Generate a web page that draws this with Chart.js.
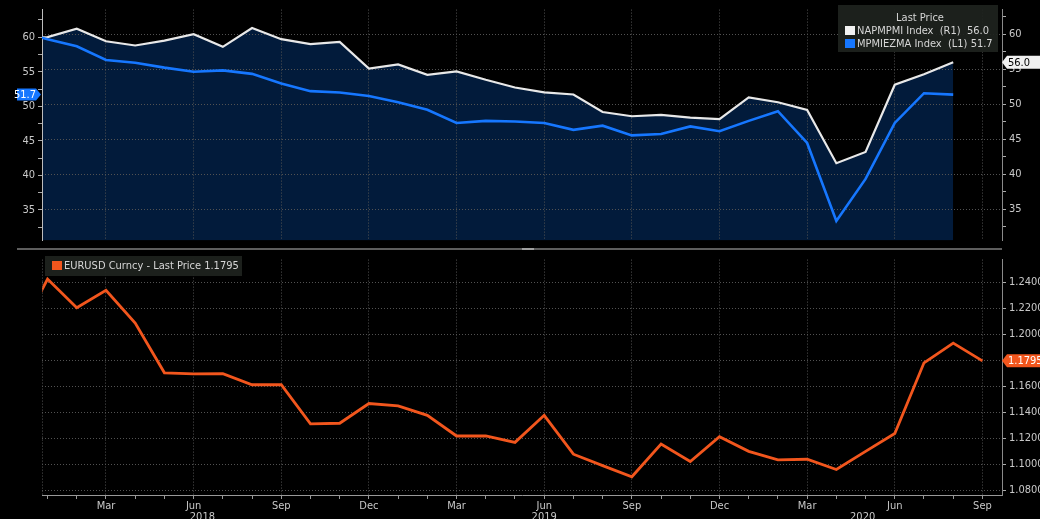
<!DOCTYPE html>
<html>
<head>
<meta charset="utf-8">
<title>PMI vs EURUSD</title>
<script src="https://cdn.jsdelivr.net/npm/chart.js@4.4.0/dist/chart.umd.min.js"></script>
<style>
	html, body { margin: 0; padding: 0; background: #000; }
	#wrap { position: relative; width: 1040px; height: 519px; overflow: hidden; background: #000; }
	#topChart { position: absolute; left: 0; top: 0; }
	#botChart { position: absolute; left: 0; top: 250px; }
	.legend {
		position: absolute;
		background: rgba(30, 35, 30, 0.92);
		color: #d6d6d6;
		font-family: "Liberation Sans Narrow", "DejaVu Sans Condensed", "Arial Narrow", sans-serif;
		font-size: 11px;
		line-height: 12px;
	}
	.legend .row, .legend .ttl { white-space: pre; height: 12px; }
	.legend .sw { display: inline-block; width: 10px; height: 9px; margin-right: 2px; vertical-align: -1px; }
	#legTop { left: 838px; top: 5px; width: 160px; height: 47px; }
	#legTop .ttl { text-align: center; margin-top: 7px; padding-left: 4px; }
	#legTop .row { margin-left: 7px; margin-top: 1px; }
	#legBot { left: 45px; top: 256px; width: 197px; height: 20px; }
	#legBot .row { margin-left: 7px; margin-top: 4px; }
</style>
</head>
<body>
<div id="wrap">
	<canvas id="topChart" width="1040" height="250"></canvas>
	<canvas id="botChart" width="1040" height="269"></canvas>
	<div class="legend" id="legTop"><div class="ttl">Last Price</div><div class="row"><span class="sw" style="background:#f2f2f2"></span>NAPMPMI Index  (R1)  56.0</div><div class="row"><span class="sw" style="background:#1677ff"></span>MPMIEZMA Index  (L1) 51.7</div></div>
	<div class="legend" id="legBot"><div class="row"><span class="sw" style="background:#f2561d"></span>EURUSD Curncy - Last Price 1.1795</div></div>
</div>
<script>
/* 資料 */
var months = ['2017-12',
	'2018-01', '2018-02', '2018-03', '2018-04', '2018-05', '2018-06', '2018-07', '2018-08', '2018-09', '2018-10', '2018-11', '2018-12',
	'2019-01', '2019-02', '2019-03', '2019-04', '2019-05', '2019-06', '2019-07', '2019-08', '2019-09', '2019-10', '2019-11', '2019-12',
	'2020-01', '2020-02', '2020-03', '2020-04', '2020-05', '2020-06', '2020-07', '2020-08', '2020-09'];

// ISM manufacturing (右軸 R1)
var napmPmi = [59.3,
	59.6, 60.8, 59.0, 58.4, 59.1, 60.0, 58.2, 60.9, 59.3, 58.6, 58.9, 55.1,
	55.7, 54.2, 54.7, 53.5, 52.4, 51.7, 51.4, 48.9, 48.3, 48.5, 48.1, 47.9,
	51.0, 50.3, 49.2, 41.6, 43.2, 52.8, 54.3, 56.0, null];

// Eurozone manufacturing PMI (左軸 L1)
var ezPmi = [60.9,
	59.7, 58.7, 56.7, 56.3, 55.6, 55.0, 55.2, 54.7, 53.3, 52.2, 52.0, 51.5,
	50.6, 49.5, 47.6, 47.9, 47.8, 47.6, 46.6, 47.2, 45.8, 46.0, 47.1, 46.4,
	47.9, 49.3, 44.7, 33.4, 39.5, 47.6, 51.9, 51.7, null];

// EURUSD
var eurusd = [1.1990,
	1.2424, 1.2204, 1.2338, 1.2085, 1.1703, 1.1695, 1.1697, 1.1611, 1.1611, 1.1310, 1.1315, 1.1467,
	1.1449, 1.1376, 1.1217, 1.1217, 1.1168, 1.1376, 1.1077, 1.0989, 1.0903, 1.1155, 1.1021, 1.1212,
	1.1099, 1.1033, 1.1038, 1.0959, 1.1099, 1.1236, 1.1780, 1.1932, 1.1795];

// 刻度
var pmiTicks = [32.5, 35, 37.5, 40, 42.5, 45, 47.5, 50, 52.5, 55, 57.5, 60, 62.5];
var fxTicks = [1.08, 1.09, 1.10, 1.11, 1.12, 1.13, 1.14, 1.15, 1.16, 1.17, 1.18, 1.19, 1.20, 1.21, 1.22, 1.23, 1.24, 1.25];
var monthNames = ['Jan', 'Feb', 'Mar', 'Apr', 'May', 'Jun', 'Jul', 'Aug', 'Sep', 'Oct', 'Nov', 'Dec'];
var quarterLabels = ['Mar', 'Jun', 'Sep', 'Dec'];
var years = ['2018', '2019', '2020'];
var yearPos = [5.3, 17.0, 27.9];

/* 設定 */
var FONT = '"Liberation Sans Narrow", "DejaVu Sans Condensed", "Arial Narrow", sans-serif';
var GRID = '#525252';
var TXT = '#c8c8c8';
var xMin = -0.19, xMax = 32.67;

// 月份轉成索引 (2018-01 = 0)
function monthIndex(s) {
	var p = s.split('-');
	return (parseInt(p[0]) - 2018) * 12 + parseInt(p[1]) - 1;
}
var monthIdx = months.map(monthIndex);

function toPoints(arr) {
	return arr.map(function(v, i) { return { x: monthIdx[i], y: v }; });
}

function isQuarter(m) {
	var n = ((m % 12) + 12) % 12;
	return quarterLabels.indexOf(monthNames[n]) >= 0;
}

function lastValue(arr) {
	for (var i = arr.length - 1; i >= 0; i--) {
		if (arr[i] !== null) return arr[i];
	}
}

function monthTicks(s) {
	s.ticks = monthIdx.filter(function(m) { return m >= 0; }).map(function(m) { return { value: m }; });
}

// 價格標籤
function drawTag(ctx, x, y, w, dir, bg, fg, text) {
	ctx.save();
	ctx.fillStyle = bg;
	ctx.beginPath();
	if (dir === 'left') {
		ctx.moveTo(x, y);
		ctx.lineTo(x + 5, y - 6.5);
		ctx.lineTo(x + w, y - 6.5);
		ctx.lineTo(x + w, y + 6.5);
		ctx.lineTo(x + 5, y + 6.5);
	} else {
		ctx.moveTo(x, y);
		ctx.lineTo(x - 5, y - 6);
		ctx.lineTo(x - w, y - 6);
		ctx.lineTo(x - w, y + 6);
		ctx.lineTo(x - 5, y + 6);
	}
	ctx.closePath();
	ctx.fill();
	ctx.fillStyle = fg;
	ctx.font = '11px ' + FONT;
	ctx.textBaseline = 'middle';
	if (dir === 'left') {
		ctx.textAlign = 'left';
		ctx.fillText(text, x + 6, y + 0.5);
	} else {
		ctx.textAlign = 'right';
		ctx.fillText(text, x - 5, y + 0.5);
	}
	ctx.restore();
}

var topDecor = {
	id: 'topDecor',
	afterDraw: function(chart) {
		var ctx = chart.ctx;
		// 分隔線
		ctx.save();
		ctx.fillStyle = '#5e5e5e';
		ctx.fillRect(17, 248, 985, 2);
		ctx.fillStyle = '#a0a0a0';
		ctx.fillRect(522, 248, 12, 2);
		ctx.restore();
		var yR = chart.scales.yR, yL = chart.scales.yL;
		drawTag(ctx, 1002, yR.getPixelForValue(lastValue(napmPmi)), 38, 'left', '#f0f0f0', '#000', lastValue(napmPmi).toFixed(1));
		drawTag(ctx, 41, yL.getPixelForValue(lastValue(ezPmi)), 24, 'right', '#1677ff', '#fff', lastValue(ezPmi).toFixed(1));
	}
};

var botDecor = {
	id: 'botDecor',
	afterDraw: function(chart) {
		var ctx = chart.ctx, area = chart.chartArea, x = chart.scales.x, y = chart.scales.y;
		ctx.save();
		ctx.strokeStyle = GRID;
		ctx.setLineDash([1, 2]);
		ctx.beginPath();
		ctx.moveTo(area.left + 0.5, area.top);
		ctx.lineTo(area.left + 0.5, area.bottom);
		ctx.stroke();
		ctx.setLineDash([]);
		// 年份
		ctx.fillStyle = TXT;
		ctx.font = '11px ' + FONT;
		ctx.textAlign = 'center';
		ctx.textBaseline = 'top';
		for (var i = 0; i < years.length; i++) {
			ctx.fillText(years[i], x.getPixelForValue(yearPos[i]), 262);
		}
		ctx.restore();
		drawTag(ctx, 1002, y.getPixelForValue(lastValue(eurusd)), 38, 'left', '#f2561d', '#fff', lastValue(eurusd).toFixed(4));
	}
};

/* 上方圖表 */
var topChart = new Chart(document.getElementById('topChart'), {
	type: 'line',
	data: {
		datasets: [{
			label: 'NAPMPMI Index',
			data: toPoints(napmPmi),
			yAxisID: 'yR',
			borderColor: '#e8e8e8',
			borderWidth: 2.2,
			pointRadius: 0,
			fill: 'start',
			backgroundColor: '#021b3b',
			order: 2
		}, {
			label: 'MPMIEZMA Index',
			data: toPoints(ezPmi),
			yAxisID: 'yL',
			borderColor: '#1677ff',
			borderWidth: 2.6,
			pointRadius: 0,
			fill: false,
			order: 1
		}]
	},
	options: {
		responsive: false,
		animation: false,
		layout: { padding: { top: 2, bottom: 2, left: 0, right: 0 }, autoPadding: false },
		plugins: {
			legend: { display: false },
			tooltip: { enabled: false },
			filler: { drawTime: 'beforeDraw' }
		},
		scales: {
			x: {
				type: 'linear', min: xMin, max: xMax,
				afterBuildTicks: monthTicks,
				ticks: { display: false },
				grid: { color: function(c) { return c.tick && isQuarter(c.tick.value) ? GRID : 'transparent'; }, drawTicks: false },
				border: { display: false, dash: [1, 2] },
				afterFit: function(s) { s.height = 0; }
			},
			yL: {
				position: 'left', min: 30.6, max: 64.0,
				afterBuildTicks: function(s) { s.ticks = pmiTicks.map(function(v) { return { value: v }; }); },
				ticks: { color: TXT, font: { family: FONT, size: 11 }, padding: 3, callback: function(v) { return v % 5 === 0 ? v : ''; } },
				grid: { drawOnChartArea: false, tickLength: 4, tickColor: '#aaa' },
				border: { color: '#bdbdbd' },
				afterFit: function(s) { s.width = 42; }
			},
			yR: {
				position: 'right', min: 30.58, max: 63.52,
				afterBuildTicks: function(s) { s.ticks = pmiTicks.map(function(v) { return { value: v }; }); },
				ticks: { color: TXT, font: { family: FONT, size: 11 }, padding: 3, callback: function(v) { return v % 5 === 0 ? v : ''; } },
				grid: { color: function(c) { return c.tick && c.tick.value % 5 === 0 ? GRID : 'transparent'; }, tickLength: 4, tickColor: '#aaa' },
				border: { color: '#8a8a8a', dash: [1, 2] },
				afterFit: function(s) { s.width = 38; }
			}
		}
	},
	plugins: [topDecor]
});

/* 下方圖表 */
var botChart = new Chart(document.getElementById('botChart'), {
	type: 'line',
	data: {
		datasets: [{
			label: 'EURUSD Curncy',
			data: toPoints(eurusd),
			yAxisID: 'y',
			borderColor: '#f2561d',
			borderWidth: 2.8,
			pointRadius: 0,
			fill: false
		}]
	},
	options: {
		responsive: false,
		animation: false,
		layout: { padding: { top: 1, left: 42 }, autoPadding: false },
		plugins: {
			legend: { display: false },
			tooltip: { enabled: false }
		},
		scales: {
			x: {
				type: 'linear', min: xMin, max: xMax,
				afterBuildTicks: monthTicks,
				ticks: {
					color: TXT, font: { family: FONT, size: 11 }, padding: 1, maxRotation: 0, autoSkip: false,
					callback: function(v) { return isQuarter(v) ? monthNames[((v % 12) + 12) % 12] : ''; }
				},
				grid: { color: function(c) { return c.tick && isQuarter(c.tick.value) ? GRID : 'transparent'; }, tickLength: 4, tickColor: '#999' },
				border: { color: '#999', dash: [1, 2] },
				afterFit: function(s) { s.height = 24; }
			},
			y: {
				position: 'right', min: 1.0763, max: 1.2574,
				afterBuildTicks: function(s) { s.ticks = fxTicks.map(function(v) { return { value: v }; }); },
				ticks: { color: TXT, font: { family: FONT, size: 11 }, padding: 3, callback: function(v) { return Math.round(v * 100) % 2 === 0 ? v.toFixed(4) : ''; } },
				grid: { color: function(c) { return c.tick && Math.round(c.tick.value * 100) % 2 === 0 ? GRID : 'transparent'; }, tickLength: 4, tickColor: '#aaa' },
				border: { color: '#8a8a8a', dash: [1, 2] },
				afterFit: function(s) { s.width = 38; }
			}
		}
	},
	plugins: [botDecor]
});
</script>
</body>
</html>
